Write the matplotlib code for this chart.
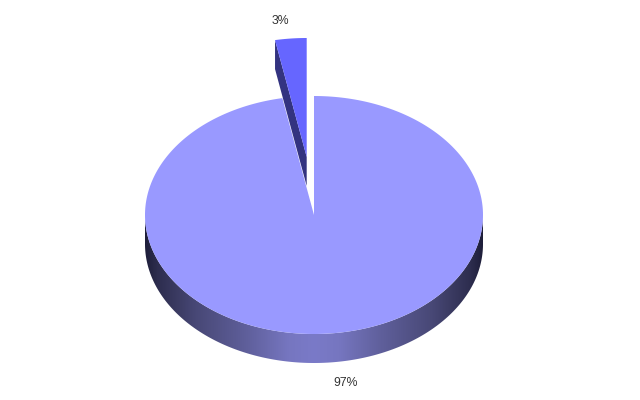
#!/usr/bin/env python

import numpy as np
import matplotlib
matplotlib.use("Agg")
from matplotlib import pyplot as plt
from matplotlib.patches import Polygon

shares = [97, 3]
labels = ["97%", "3%"]
top_colors = ["#9999ff", "#6666ff"]
wall_color = "#333380"

## gradient of the rim, from the middle of the pie to its edge
rim_stops = [0.0, 0.15, 0.4, 0.7, 0.93, 1.0]
rim_r = [122, 118, 95, 72, 45, 30]
rim_g = [122, 118, 95, 72, 45, 30]
rim_b = [200, 192, 155, 118, 78, 58]

RX, RY, DEPTH = 169.0, 119.0, 29.0
CENTER_BIG = (314.0, 215.0)
CENTER_SMALL = (306.7, 157.0)


def wedge_points(center, start, end, n=300):
    ## angles clockwise from 12 o'clock
    ang = np.radians(np.linspace(start, end, n))
    x = center[0] + RX * np.sin(ang)
    y = center[1] - RY * np.cos(ang)
    return np.column_stack([np.r_[center[0], x], np.r_[center[1], y]])


def draw_rim(ax, center):
    ang = np.radians(np.linspace(90, 270, 400))
    x = center[0] + RX * np.sin(ang)
    y = center[1] - RY * np.cos(ang)
    pts = np.r_[np.column_stack([x, y]), np.column_stack([x, y + DEPTH])[::-1]]
    clip = Polygon(pts, closed=True, transform=ax.transData, fc="none", ec="none")
    ax.add_patch(clip)

    xs = np.linspace(center[0] - RX, center[0] + RX, 340)
    t = np.abs(xs - center[0]) / RX
    rgb = np.stack([np.interp(t, rim_stops, c) for c in (rim_r, rim_g, rim_b)], axis=1)
    img = ax.imshow(
        rgb[np.newaxis, :, :] / 255.0,
        extent=(xs[0], xs[-1], center[1] + RY + DEPTH, center[1]),
        aspect="auto",
        zorder=1,
    )
    img.set_clip_path(clip)


def main():
    fig = plt.figure(figsize=(6.4, 4.0), dpi=100)
    ax = fig.add_axes([0, 0, 1, 1])

    draw_rim(ax, CENTER_BIG)

    small_angle = 360.0 * shares[1] / sum(shares)

    ## Big slice
    ax.add_patch(Polygon(wedge_points(CENTER_BIG, 0, 360 - small_angle),
                         closed=True, fc=top_colors[0], ec="none", zorder=2))

    ## Exploded slice, wall first
    corner = wedge_points(CENTER_SMALL, -small_angle, 0)[1]
    wall = [corner, CENTER_SMALL,
            (CENTER_SMALL[0], CENTER_SMALL[1] + DEPTH),
            (corner[0], corner[1] + DEPTH)]
    ax.add_patch(Polygon(wall, closed=True, fc=wall_color, ec="none", zorder=3))
    ax.add_patch(Polygon(wedge_points(CENTER_SMALL, -small_angle, 0),
                         closed=True, fc=top_colors[1], ec="none", zorder=4))

    ax.text(346, 383, labels[0], ha="center", va="center", fontsize=8.8,
            family="Liberation Sans", color="#333333")
    ax.text(280.5, 20.5, labels[1], ha="center", va="center", fontsize=8.8,
            family="Liberation Sans", color="#333333")

    ax.set_xlim(0, 640)
    ax.set_ylim(400, 0)
    ax.axis("off")
    plt.savefig("out.png", dpi=100, facecolor="white")


if __name__ == "__main__":
    main()
